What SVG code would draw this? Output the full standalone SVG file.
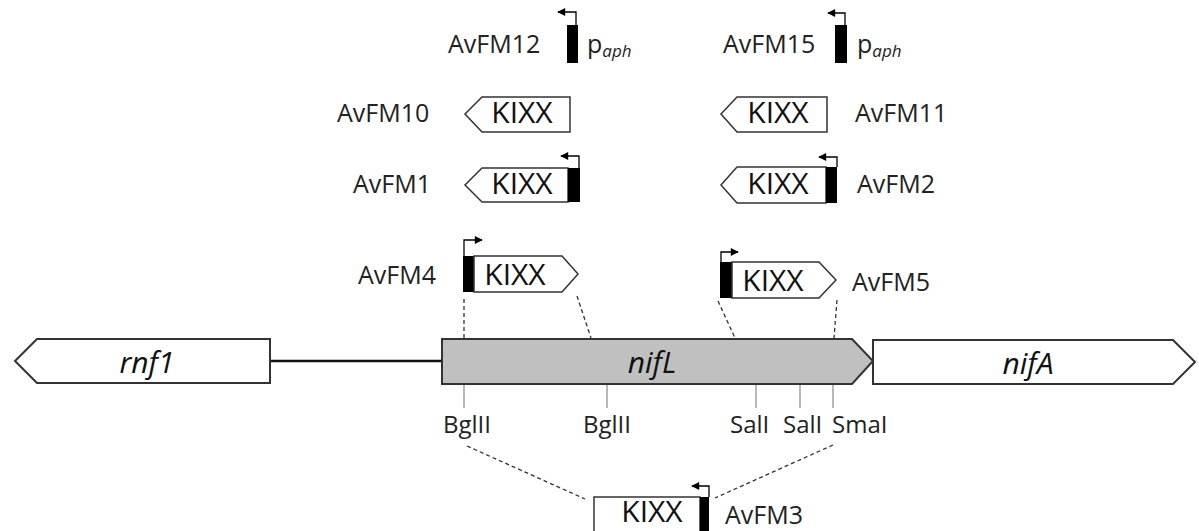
<svg xmlns="http://www.w3.org/2000/svg" width="1199" height="531" viewBox="0 0 1199 531">
<defs>
<marker id="ah" viewBox="0 0 10 10" refX="9" refY="5" markerWidth="9" markerHeight="8" markerUnits="userSpaceOnUse" orient="auto">
<path d="M0,0 L10,5 L0,10 Z" fill="#000"/>
</marker>
</defs>
<style>
.lbl{font-family:"Open Sans","Liberation Sans",sans-serif;font-size:25px;fill:#222}
.kixx{font-family:"Open Sans","Liberation Sans",sans-serif;font-size:30px;fill:#111;text-anchor:middle}
.gene{font-family:"Open Sans","Liberation Sans",sans-serif;font-size:30px;font-style:italic;fill:#111;text-anchor:middle}
.site{font-family:"Open Sans","Liberation Sans",sans-serif;font-size:24px;fill:#222}
.box{fill:#fff;stroke:#333;stroke-width:1.5}
.bar{fill:#000}
.prom{fill:none;stroke:#000;stroke-width:1.3;marker-end:url(#ah)}
.dash{fill:none;stroke:#333;stroke-width:1.3;stroke-dasharray:4 3}
.cut{stroke:#888;stroke-width:1.2}
.gbox{stroke:#333;stroke-width:2}
</style>

<g id="connectors">
<line class="dash" x1="464" y1="299" x2="464" y2="339"/>
<line class="dash" x1="577" y1="296" x2="591" y2="338"/>
<line class="dash" x1="718" y1="301" x2="735" y2="338"/>
<line class="dash" x1="837" y1="300" x2="834" y2="338"/>
<line class="dash" x1="467" y1="446" x2="585" y2="499"/>
<line class="dash" x1="833" y1="445" x2="715" y2="498"/>
<line x1="270" y1="361" x2="442" y2="361" stroke="#111" stroke-width="2.5"/>
<line class="cut" x1="464" y1="384" x2="464" y2="408"/>
<line class="cut" x1="607" y1="384" x2="607" y2="408"/>
<line class="cut" x1="756" y1="384" x2="756" y2="408"/>
<line class="cut" x1="800" y1="384" x2="800" y2="408"/>
<line class="cut" x1="833" y1="384" x2="833" y2="408"/>
</g>

<g id="rnf1">
<path class="gbox" fill="#fff" d="M37,339 L270,339 L270,383 L37,383 L15,361 Z"/>
<text class="gene" x="147" y="373">rnf1</text>
</g>
<g id="nifL">
<path class="gbox" fill="#c0c0c0" d="M442,339 L852,339 L873,361 L852,384 L442,384 Z"/>
<text class="gene" x="652" y="373">nifL</text>
</g>
<g id="nifA">
<path class="gbox" fill="#fff" d="M873,340 L1173,340 L1195,362 L1173,384 L873,384 Z"/>
<text class="gene" x="1028" y="374">nifA</text>
</g>

<g id="sites">
<text class="site" x="443" y="433">BglII</text>
<text class="site" x="583" y="433">BglII</text>
<text class="site" x="730" y="433">SalI</text>
<text class="site" x="783" y="433">SalI</text>
<text class="site" x="832" y="433">SmaI</text>
</g>

<g id="AvFM12">
<text class="lbl" x="448" y="53">AvFM12</text>
<rect class="bar" x="567" y="25" width="11" height="38"/>
<path class="prom" d="M576,25 L576,12 L558,12"/>
<text class="lbl" x="587" y="53">p<tspan font-size="17" font-style="italic" dy="4">aph</tspan></text>
</g>

<g id="AvFM15">
<text class="lbl" x="723" y="53">AvFM15</text>
<rect class="bar" x="835" y="25" width="12" height="38"/>
<path class="prom" d="M845,25 L845,13 L828,13"/>
<text class="lbl" x="857" y="53">p<tspan font-size="17" font-style="italic" dy="4">aph</tspan></text>
</g>

<g id="AvFM10">
<text class="lbl" x="337" y="122">AvFM10</text>
<path class="box" d="M482,97 L570,97 L570,132 L482,132 L465,114 Z"/>
<text class="kixx" x="522" y="123">KIXX</text>
</g>

<g id="AvFM11">
<path class="box" d="M737,97 L827,97 L827,132 L737,132 L721,114 Z"/>
<text class="kixx" x="778" y="123">KIXX</text>
<text class="lbl" x="855" y="122">AvFM11</text>
</g>

<g id="AvFM1">
<text class="lbl" x="353" y="193">AvFM1</text>
<path class="box" d="M482,168 L568,168 L568,202 L482,202 L465,185 Z"/>
<rect class="bar" x="568" y="168" width="12" height="34"/>
<path class="prom" d="M579,168 L579,156 L561,156"/>
<text class="kixx" x="522" y="194">KIXX</text>
</g>

<g id="AvFM2">
<path class="box" d="M737,167 L826,167 L826,203 L737,203 L721,185 Z"/>
<rect class="bar" x="826" y="167" width="11" height="36"/>
<path class="prom" d="M837,167 L837,157 L819,157"/>
<text class="kixx" x="778" y="194">KIXX</text>
<text class="lbl" x="857" y="193">AvFM2</text>
</g>

<g id="AvFM4">
<text class="lbl" x="358" y="284">AvFM4</text>
<rect class="bar" x="463" y="256" width="11" height="36"/>
<path class="box" d="M474,256 L562,256 L578,274 L562,292 L474,292 Z"/>
<path class="prom" d="M464,256 L464,240 L482,240"/>
<text class="kixx" x="515" y="285">KIXX</text>
</g>

<g id="AvFM5">
<rect class="bar" x="720" y="262" width="12" height="36"/>
<path class="box" d="M732,262 L819,262 L836,280 L819,298 L732,298 Z"/>
<path class="prom" d="M721,262 L721,252 L738,252"/>
<text class="kixx" x="773" y="291">KIXX</text>
<text class="lbl" x="852" y="291">AvFM5</text>
</g>

<g id="AvFM3">
<rect class="box" x="594" y="497" width="106" height="40"/>
<rect class="bar" x="700" y="497" width="9" height="40"/>
<path class="prom" d="M709,497 L709,486 L692,486"/>
<text class="kixx" x="652" y="522" font-size="22">KIXX</text>
<text class="lbl" x="725" y="524">AvFM3</text>
</g>
</svg>
